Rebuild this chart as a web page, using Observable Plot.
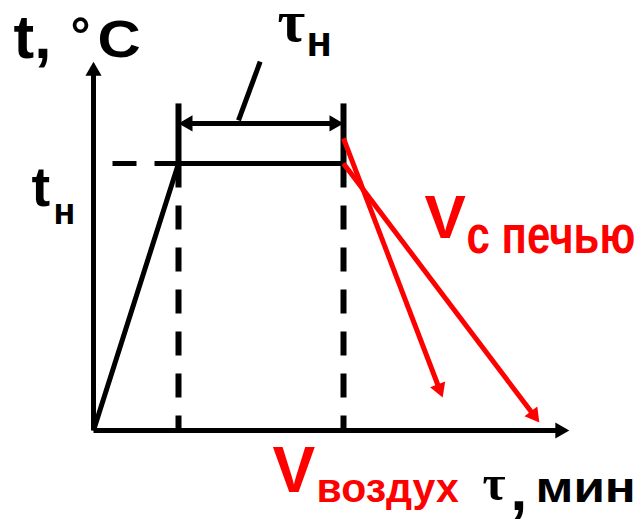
<!DOCTYPE html>
<html><head><meta charset="utf-8">
<script src="https://cdn.jsdelivr.net/npm/d3@7"></script>
<script src="https://cdn.jsdelivr.net/npm/@observablehq/plot@0.6"></script>
<style>html,body{margin:0;padding:0;background:#fff;}</style>
</head><body><div id="chart"></div>
<script>
// ---- Data (read from the schematic) ----
const stageTime = [0, 10.2, 30];        // мин: start, end of heating, end of holding
const stageTemp = [0, 800, 800];        // °C
const tN = 800;                         // heating temperature t_н
const holdStart = 10.2, holdEnd = 30;   // holding interval τ_н
const coolNames = ["воздух", "с печью"];
const coolStartTemp = [875, 800];
const coolEndTime = [41.9, 53.5];
const coolEndTemp = [99, 24];
const axisMaxTime = 57.1, axisMaxTemp = 1105;
const dimTemp = 920, extTopTemp = 980;
const leaderFrom = [17.4, 929], leaderTo = [20.0, 1105];
const dashLeftTime = 2.04;
const yTitle = ["t,", "°", "C"];
const xTitle = ["τ", ",", "мин"];
const tauN = ["τ", "н"];
const tempN = ["t", "н"];
const vLetter = "V";

// ---- Layout ----
const W = 641, H = 525;
const pxPerMin = 250 / 30, pxPerDeg = 267 / 800;
const xDomain = [-93 / pxPerMin, (W - 93) / pxPerMin];
const yDomain = [-(H - 430) / pxPerDeg, 430 / pxPerDeg];
const sx = d3.scaleLinear(xDomain, [0, W]);
const sy = d3.scaleLinear(yDomain, [H, 0]);
const RED = "#ff0000";
const SANS = "Liberation Sans, Arial, sans-serif";
const SERIF = "Liberation Serif, Times New Roman, serif";

function seg(x1, y1, x2, y2, opts = {}) {
  return Plot.link([{x1, y1, x2, y2}], {x1: "x1", y1: "y1", x2: "x2", y2: "y2",
    stroke: opts.color || "black", strokeWidth: opts.w || 5, strokeLinecap: "butt",
    strokeDasharray: opts.dash});
}
function head(tx, ty, ux, uy, r, color) {
  const c = 1.555 * r;
  const angle = Math.atan2(ux, -uy) * 180 / Math.PI;
  return Plot.dot([{x: tx, y: ty}], {x: "x", y: "y", dx: -ux * c, dy: -uy * c, r,
    symbol: "triangle", fill: color, stroke: "none", rotate: angle});
}
function arrow(x0, y0, x1, y1, opts = {}) {
  const color = opts.color || "black", r = opts.r || 6, w = opts.w || 5;
  const p0 = [sx(x0), sy(y0)], p1 = [sx(x1), sy(y1)];
  const L = Math.hypot(p1[0] - p0[0], p1[1] - p0[1]);
  const ux = (p1[0] - p0[0]) / L, uy = (p1[1] - p0[1]) / L;
  const c = 1.555 * r;
  const e = [sx.invert(p1[0] - ux * c), sy.invert(p1[1] - uy * c)];
  const b = opts.both ? [sx.invert(p0[0] + ux * c), sy.invert(p0[1] + uy * c)] : [x0, y0];
  const marks = [seg(b[0], b[1], e[0], e[1], {color, w}), head(x1, y1, ux, uy, r, color)];
  if (opts.both) marks.push(head(x0, y0, -ux, -uy, r, color));
  return marks;
}
function txt(str, ax, ay, dx, dy, size, opts = {}) {
  return Plot.text([str], {x: () => ax, y: () => ay, text: d => d, dx, dy,
    textAnchor: "start", lineAnchor: "bottom", fontSize: size,
    fontFamily: opts.family || SANS, fontWeight: "bold", fill: opts.color || "black"});
}

const ax0 = 0, ayTop = axisMaxTemp;   // anchor: top of temperature axis
const plot = Plot.plot({
  width: W, height: H, margin: 0,
  x: {domain: xDomain, axis: null},
  y: {domain: yDomain, axis: null},
  style: {background: "#fff", overflow: "visible"},
  marks: [
    // axes
    ...arrow(0, 0, 0, axisMaxTemp),
    ...arrow(0, 0, axisMaxTime, 0),
    // heating + holding
    Plot.line(stageTime.map((t, i) => ({t, T: stageTemp[i]})), {x: "t", y: "T",
      stroke: "black", strokeWidth: 5, strokeLinejoin: "miter", strokeLinecap: "butt"}),
    // dashed guides
    seg(holdStart, tN, dashLeftTime, tN, {w: 5, dash: "24,18"}),
    seg(holdStart, tN, holdStart, 0, {w: 6, dash: "24,18"}),
    seg(holdEnd, tN, holdEnd, 0, {w: 6, dash: "24,18"}),
    // extension lines for τн
    seg(holdStart, tN, holdStart, extTopTemp, {w: 6}),
    seg(holdEnd, tN, holdEnd, extTopTemp, {w: 6}),
    // dimension arrow and leader
    ...arrow(holdStart, dimTemp, holdEnd, dimTemp, {both: true}),
    seg(leaderFrom[0], leaderFrom[1], leaderTo[0], leaderTo[1], {w: 5}),
    // cooling arrows
    ...arrow(holdEnd, coolStartTemp[0], coolEndTime[0], coolEndTemp[0], {color: RED}),
    ...arrow(holdEnd, coolStartTemp[1], coolEndTime[1], coolEndTemp[1], {color: RED}),
    // labels
    txt(yTitle[0], ax0, ayTop, -80, -4, 62),
    txt(yTitle[1], ax0, ayTop, -23, -10, 50),
    txt(yTitle[2], ax0, ayTop, 4, -5, 52),
    txt(tauN[0], ax0, ayTop, 184, -21, 60, {family: SERIF}),
    txt(tauN[1], ax0, ayTop, 213, -6, 42),
    txt(tempN[0], 0, tN, -62, 42, 56),
    txt(tempN[1], 0, tN, -40, 60, 36),
    txt(vLetter, holdEnd, tN, 81, 74, 62, {color: RED}),
    txt(coolNames[1], holdEnd, tN, 123, 89, 42, {color: RED}),
    txt(vLetter, holdEnd, 0, -71, 61, 64, {color: RED}),
    txt(coolNames[0], holdEnd, 0, -27, 71, 41, {color: RED}),
    txt(xTitle[0], holdEnd, 0, 139, 69, 50, {family: SERIF}),
    txt(xTitle[1], holdEnd, 0, 167, 79, 60),
    txt(xTitle[2], holdEnd, 0, 192, 71, 42)
  ]
});

function stretch(svg, str, kx, ky) {
  svg.querySelectorAll("text").forEach(t => {
    if (t.textContent === str) {
      const tr = t.getAttribute("transform");
      if (tr) t.setAttribute("transform", tr + ` scale(${kx},${ky})`);
      else {
        const x = parseFloat(t.getAttribute("x")) || 0, y = parseFloat(t.getAttribute("y")) || 0;
        t.setAttribute("transform", `translate(${x},${y}) scale(${kx},${ky}) translate(${-x},${-y})`);
      }
    }
  });
}
stretch(plot, yTitle[2], 1.15, 1);
stretch(plot, coolNames[1], 1, 1.27);
stretch(plot, xTitle[2], 1.22, 1);
document.getElementById("chart").appendChild(plot);
</script></body></html>
